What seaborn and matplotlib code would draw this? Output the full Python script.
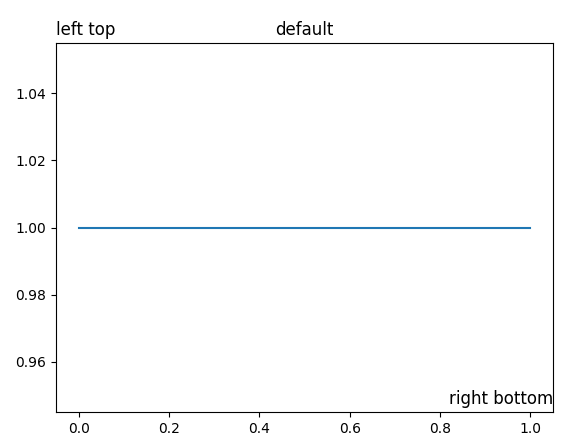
import matplotlib
matplotlib.use("Agg")
import matplotlib.pyplot as plt
import seaborn as sns
import pandas as pd

x_values = [0, 1]
y_values = [1, 1]

df = pd.DataFrame({"x": x_values, "y": y_values})

fig, ax = plt.subplots(figsize=(5.75, 4.46), dpi=100)
fig.subplots_adjust(left=56 / 575, right=553 / 575, top=1 - 43 / 446, bottom=1 - 412 / 446)

sns.lineplot(data=df, x="x", y="y", ax=ax, color="#1f77b4")
ax.set_xlabel("")
ax.set_ylabel("")
ax.set_ylim(0.945, 1.055)
ax.set_xlim(-0.05, 1.05)

ax.set_title("default")
ax.set_title("left top", loc="left")
ax.set_title("right bottom", loc="right", y=0)

fig.savefig("out.png", dpi=100)
